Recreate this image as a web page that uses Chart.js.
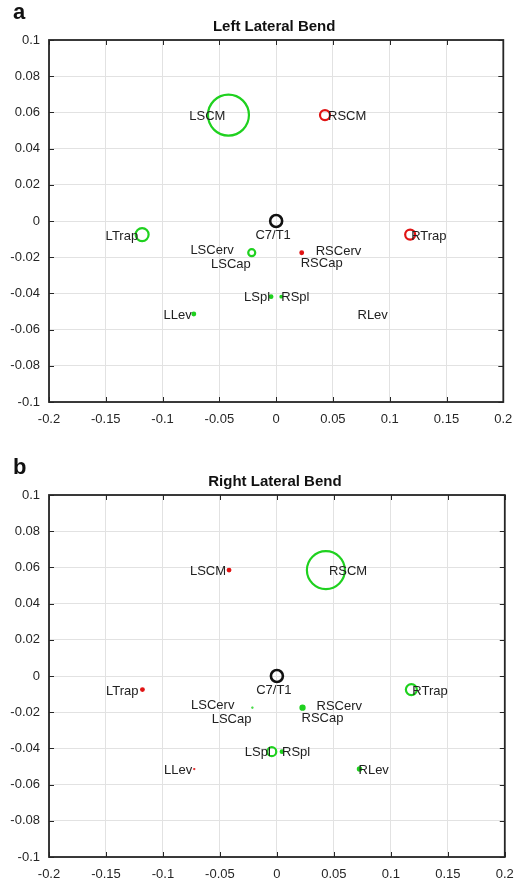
<!DOCTYPE html>
<html>
<head>
<meta charset="utf-8">
<script src="https://cdn.jsdelivr.net/npm/chart.js@4.4.1/dist/chart.umd.min.js"></script>
<style>
  body { margin: 0; background: #fff; width: 526px; height: 883px; overflow: hidden; position: relative; }
  canvas { position: absolute; left: 0; }
  #chartA { top: 0; }
  #chartB { top: 455px; }
</style>
</head>
<body>
<canvas id="chartA" width="526" height="428"></canvas>
<canvas id="chartB" width="526" height="428"></canvas>
<script>
// muscle attachment positions (m), relative to C7/T1
var muscles = ['LSCM', 'RSCM', 'C7/T1', 'LTrap', 'RTrap', 'LSCerv', 'RSCerv', 'LSCap', 'RSCap', 'LSpl', 'RSpl', 'LLev', 'RLev'];
var posX = [-0.042, 0.043, 0, -0.118, 0.118, -0.0215, 0.0225, -0.0215, 0.0225, -0.0045, 0.0045, -0.0725, 0.0725];
var posY = [0.0585, 0.0585, 0, -0.0075, -0.0075, -0.0175, -0.0175, -0.0175, -0.0175, -0.0418, -0.0418, -0.0514, -0.0514];

// marker magnitude and sign (+ activated, - reduced, 0 reference) per task
var magLeft  = [20.5, 5, 6, 6.5, 5, 0, 0, 3.5, 2.5, 2.5, 2, 2.5, 0];
var signLeft = ['+', '-', '0', '+', '-', '+', '-', '+', '-', '+', '+', '+', '+'];
var magRight  = [2.5, 19, 6, 2.5, 5.5, 0, 0, 1.2, 3.2, 4.5, 2.5, 1.2, 2.8];
var signRight = ['-', '+', '0', '-', '+', '+', '+', '+', '+', '+', '+', '-', '+'];

var xTicks = [-0.2, -0.15, -0.1, -0.05, 0, 0.05, 0.1, 0.15, 0.2];
var yTicks = [-0.1, -0.08, -0.06, -0.04, -0.02, 0, 0.02, 0.04, 0.06, 0.08, 0.1];

var signColor = { '+': '#1fd11f', '-': '#e01414', '0': '#111111' };

// text placement next to each marker: [dx, dy, align]
var labelPlace = {
  'LSCM': [-3, 1, 'right'], 'RSCM': [3, 1, 'left'], 'C7/T1': [-3, 14, 'center'],
  'LTrap': [-4, 2, 'right'], 'RTrap': [1, 2, 'left'],
  'LSCerv': [-18, -2, 'right'], 'RSCerv': [14, -1, 'left'],
  'LSCap': [-1, 12, 'right'], 'RSCap': [-1, 11, 'left'],
  'LSpl': [-1, 1, 'right'], 'RSpl': [0, 1, 'left'],
  'LLev': [-2, 1, 'right'], 'RLev': [-1, 1, 'left']
};

var FONT = '"Liberation Sans", Arial, sans-serif';

function fmt(v) { return String(parseFloat(Number(v).toFixed(2))); }

var matlabAxes = {
  id: 'matlabAxes',
  afterDraw: function (chart, args, opts) {
    var ctx = chart.ctx, a = chart.chartArea;
    var xs = chart.scales.x, ys = chart.scales.y;
    ctx.save();
    ctx.strokeStyle = '#262626';
    ctx.lineWidth = 1;
    ctx.beginPath();
    xTicks.forEach(function (t) {
      var px = Math.round(xs.getPixelForValue(t)) + 0.5;
      ctx.moveTo(px, a.bottom); ctx.lineTo(px, a.bottom - 5);
      ctx.moveTo(px, a.top); ctx.lineTo(px, a.top + 5);
    });
    yTicks.forEach(function (t) {
      var py = Math.round(ys.getPixelForValue(t)) + 0.5;
      ctx.moveTo(a.left, py); ctx.lineTo(a.left + 5, py);
      ctx.moveTo(a.right, py); ctx.lineTo(a.right - 5, py);
    });
    ctx.stroke();
    ctx.lineWidth = 1.8;
    ctx.strokeRect(a.left, a.top, a.right - a.left, a.bottom - a.top);

    // muscle names
    ctx.fillStyle = '#222';
    ctx.font = '13px ' + FONT;
    ctx.textBaseline = 'middle';
    muscles.forEach(function (m, i) {
      var p = labelPlace[m];
      ctx.textAlign = p[2];
      ctx.fillText(m, xs.getPixelForValue(posX[i]) + p[0], ys.getPixelForValue(posY[i]) + p[1]);
    });

    // title and panel letter
    ctx.textAlign = 'center';
    ctx.font = 'bold 15px ' + FONT;
    ctx.fillStyle = '#111';
    ctx.fillText(opts.title, (a.left + a.right) / 2 - 2, 27);
    ctx.textAlign = 'left';
    ctx.font = 'bold 22px ' + FONT;
    ctx.fillText(opts.letter, 13, 13);
    ctx.restore();
  }
};

function makeChart(id, title, letter, mags, signs) {
  var pts = posX.map(function (x, i) { return { x: x, y: posY[i] }; });
  var colors = signs.map(function (s) { return signColor[s]; });
  // small rings close up into dots, as they do in the original figure
  var fills = mags.map(function (r, i) { return r <= 3.2 ? colors[i] : 'rgba(0,0,0,0)'; });
  var radii = mags.map(function (r) { return r <= 3.2 ? r - 0.8 : r; });
  var ctx = document.getElementById(id).getContext('2d');
  return new Chart(ctx, {
    type: 'scatter',
    data: {
      datasets: [{
        data: pts,
        pointRadius: radii,
        pointHoverRadius: radii,
        pointBorderColor: colors,
        pointBackgroundColor: fills,
        pointBorderWidth: mags.map(function (r) { return r <= 3.2 ? 1.5 : (r === 6 ? 2.6 : 2.2); })
      }]
    },
    options: {
      responsive: false,
      animation: false,
      events: [],
      layout: { padding: { top: 40, right: 21, left: 0, bottom: 0 } },
      plugins: {
        legend: { display: false },
        tooltip: { enabled: false },
        matlabAxes: { title: title, letter: letter }
      },
      scales: {
        x: {
          type: 'linear', min: -0.2, max: 0.2,
          afterFit: function (s) { s.height = 26; },
          afterBuildTicks: function (s) { s.ticks = xTicks.map(function (v) { return { value: v }; }); },
          grid: { color: '#e2e2e2', drawTicks: false },
          border: { display: false },
          ticks: { padding: 10, color: '#262626', font: { family: FONT, size: 13 }, callback: fmt }
        },
        y: {
          type: 'linear', min: -0.1, max: 0.1,
          afterFit: function (s) { s.width = 49; },
          afterBuildTicks: function (s) { s.ticks = yTicks.map(function (v) { return { value: v }; }); },
          grid: { color: '#e2e2e2', drawTicks: false },
          border: { display: false },
          ticks: { padding: 9, color: '#262626', font: { family: FONT, size: 13 }, callback: fmt }
        }
      }
    },
    plugins: [matlabAxes]
  });
}

makeChart('chartA', 'Left Lateral Bend', 'a', magLeft, signLeft);
makeChart('chartB', 'Right Lateral Bend', 'b', magRight, signRight);
</script>
</body>
</html>
